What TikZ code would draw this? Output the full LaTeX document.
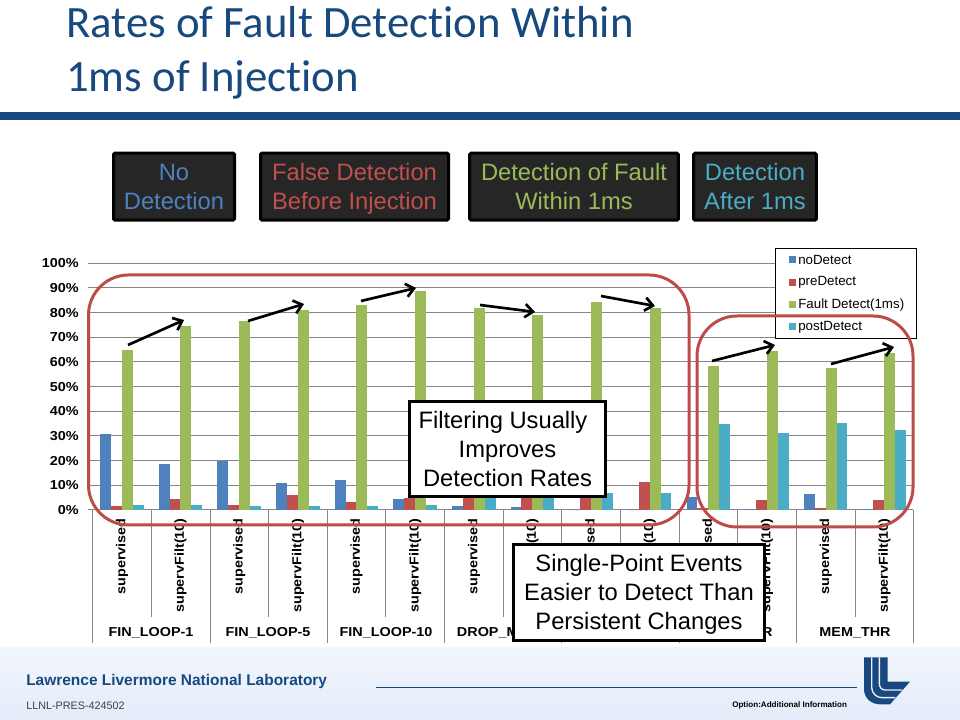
\documentclass[tikz,border=0pt]{standalone}
\usepackage{fontspec}
\setmainfont{Liberation Sans}
\newfontfamily\titlefont[Ligatures=NoCommon]{Carlito}
\usepackage{xcolor}
\usetikzlibrary{arrows.meta}
\definecolor{navy}{HTML}{17497F}
\definecolor{nodetect}{HTML}{4F81BD}
\definecolor{predetect}{HTML}{C0504D}
\definecolor{faultdetect}{HTML}{9BBB59}
\definecolor{postdetect}{HTML}{4BACC6}
\definecolor{ringred}{HTML}{BE4B48}
\definecolor{darkbox}{HTML}{262626}
\definecolor{axisgray}{HTML}{868686}
\definecolor{foottop}{HTML}{F2F6FD}
\definecolor{footlow}{HTML}{E4ECFA}
\definecolor{footblue}{HTML}{E9F0FB}
\tikzset{
    darklabel/.style={draw=black, line width=2.25pt, fill=darkbox, rounded corners=1pt, align=center,
        minimum height=50.25pt, inner sep=0pt, font=\fontsize{17.8}{21.75}\selectfont},
    callout/.style={draw=black, line width=2.25pt, fill=white, align=center, inner sep=0pt,
        font=\fontsize{17.8}{21.75}\selectfont},
    chartlabel/.style={inner sep=0pt, yscale=0.9, font=\bfseries\fontsize{10.8}{12}\selectfont},
    legendtext/.style={anchor=west, inner sep=0pt, font=\fontsize{10}{11}\selectfont},
    ring/.style={draw=ringred, line width=2.25pt, rounded corners=30pt},
    trend/.style={line width=2pt, -{Straight Barb[length=6pt,width=10pt,line width=2pt]}}
}
\begin{document}
\begin{tikzpicture}[x=0.75pt, y=0.75pt]
    \useasboundingbox (0,0) rectangle (960,720);
    % footer and header
    \fill[top color=foottop, bottom color=footlow] (0,0) rectangle (960,72);
    \fill[navy] (0,600) rectangle (960,608);
    \node[anchor=west, inner sep=0pt, text=navy, align=left, font=\titlefont\fontsize{33.6}{40.9}\selectfont] (title) at (66,667) {Rates of Fault Detection Within\\1ms of Injection};
    \node[anchor=west, inner sep=0pt, text=navy, font=\bfseries\fontsize{11.6}{13}\selectfont] (lab) at (26,38) {Lawrence Livermore National Laboratory};
    \node[anchor=west, inner sep=0pt, text=black!75, font=\fontsize{8.1}{9}\selectfont] (pres) at (26,14) {LLNL-PRES-424502};
    \node[anchor=west, inner sep=0pt, font=\bfseries\fontsize{6.05}{7}\selectfont] (option) at (732,15) {Option:Additional Information};
    \coordinate (rulea) at (376,32);
    \coordinate (ruleb) at (857,32);
    \draw[navy, line width=0.75pt] (rulea) -- (ruleb);
    % logo
    \begin{scope}[shift={(840,70)}, x=0.25pt, y=-0.25pt]
        \fill[navy] (72,22) -- (72,118) .. controls (72,145) and (95,163) .. (120,163) -- (150,163) -- (210,95) -- (143,95) -- (143,22) -- cycle;
        \draw[footblue, line width=1pt] (95,22) -- (95,112) .. controls (95,130) and (110,143) .. (125,143) -- (166,143);
        \draw[footblue, line width=1pt] (118,22) -- (118,100) .. controls (118,112) and (125,120) .. (135,120) -- (187,120);
    \end{scope}
    % colour key on top
    \node[darklabel, minimum width=90.75pt, text=nodetect] (keyno) at (174,533.3) {No\\Detection};
    \node[darklabel, minimum width=141pt, text=predetect] (keypre) at (354.5,533.3) {False Detection\\Before In\smash{j}ection};
    \node[darklabel, minimum width=156.4pt, text=faultdetect] (keyfault) at (574,533.3) {Detection of Fault\\Within 1ms};
    \node[darklabel, minimum width=92pt, text=postdetect] (keypost) at (755,533.3) {Detection\\After 1ms};
    % grid and axis
    \foreach \v in {0,10,...,100} {
        \draw[axisgray, line width=0.75pt] (88,210+2.467*\v) -- (913,210+2.467*\v);
        \node[chartlabel, anchor=east] (pct\v) at (79,210+2.467*\v) {\v\%};
    }
    \draw[axisgray, line width=0.75pt] (92.7,210) -- (92.7,77);
    \foreach \i in {1,...,14} {
        \pgfmathsetmacro{\xtick}{92.7+58.65*\i}
        \ifodd\i
            \draw[axisgray, line width=0.75pt] (\xtick,210) -- (\xtick,103);
        \else
            \draw[axisgray, line width=0.75pt] (\xtick,210) -- (\xtick,77);
        \fi
    }
    % bars
    \foreach \i/\a/\b/\c/\d in {0/31/1.5/65/2, 1/18.5/4.3/74.5/2, 2/20/2/76.5/1.5, 3/11/6/81/1.5, 4/12/3.2/83/1.5,
        5/4.5/5/88.7/2, 6/1.7/8/82/5, 7/1.2/8/79/5.5, 8/0/8/84.5/6.7, 9/0/11.2/82/6.8,
        10/5.2/0.8/58.5/35, 11/0.3/4/64.5/31.2, 12/6.5/1/57.5/35.2, 13/0.3/4/63.5/32.3} {
        \pgfmathsetmacro{\xbar}{100+58.65*\i}
        \fill[nodetect] (\xbar,210) rectangle ++(10.9,2.467*\a);
        \fill[predetect] (\xbar+10.9,210) rectangle ++(10.9,2.467*\b);
        \fill[faultdetect] (\xbar+21.8,210) rectangle ++(10.9,2.467*\c);
        \fill[postdetect] (\xbar+32.7,210) rectangle ++(10.9,2.467*\d);
    }
    % category labels
    \foreach \i in {0,2,...,12} {
        \node[rotate=90, chartlabel, anchor=east] (sup\i) at (122+58.65*\i,202) {supervised};
        \node[rotate=90, chartlabel, anchor=east] (filt\i) at (180.6+58.65*\i,202) {supervFilt(10)};
    }
    \node[chartlabel] (grpa) at (151,87.5) {FIN\_LOOP-1};
    \node[chartlabel] (grpb) at (268,87.5) {FIN\_LOOP-5};
    \node[chartlabel] (grpc) at (386,87.5) {FIN\_LOOP-10};
    \node[chartlabel, anchor=west] (grpd) at (456.7,87.5) {DROP\_M};
    \node[chartlabel, anchor=east] (grpe) at (772.7,87.5) {R};
    \node[chartlabel] (grpf) at (855,87.5) {MEM\_THR};
    % legend
    \node[draw=black, line width=0.75pt, fill=white, minimum width=105.5pt, minimum height=68pt, inner sep=0pt] (legend) at (846,426.5) {};
    \foreach \n/\name/\col/\y in {a/noDetect/nodetect/460, b/preDetect/predetect/437.5, c/Fault Detect(1ms)/faultdetect/415, d/postDetect/postdetect/393} {
        \fill[\col] (789,\y-3.5) rectangle ++(7,7);
        \node[legendtext] (leg\n) at (798,\y) {\name};
    }
    % rings
    \draw[ring] (88.5,195) rectangle (689,445);
    \draw[ring] (697,193) rectangle (913,404);
    % trend arrows
    \foreach \n/\xa/\ya/\xb/\yb in {a/128/375/184/400, b/248/399/304/416, c/361/419/416/432, d/480/415/535/408,
        e/601/424/655/414, f/712/359/775/375, g/831/356/894/373} {
        \coordinate (from\n) at (\xa,\ya);
        \coordinate (to\n) at (\xb,\yb);
        \draw[trend] (from\n) -- (to\n);
    }
    % callouts
    \node[callout, minimum width=147pt, minimum height=71.25pt] (filtnote) at (507.5,271) {Filtering Usually\kern6.75pt\\Improves\\Detection Rates};
    \node[callout, minimum width=188.25pt, minimum height=72pt] (pointnote) at (639,127.5) {\rule{0pt}{16pt}Single-Point Events\\Easier to Detect Than\\Persistent Changes};
\end{tikzpicture}
\end{document}
